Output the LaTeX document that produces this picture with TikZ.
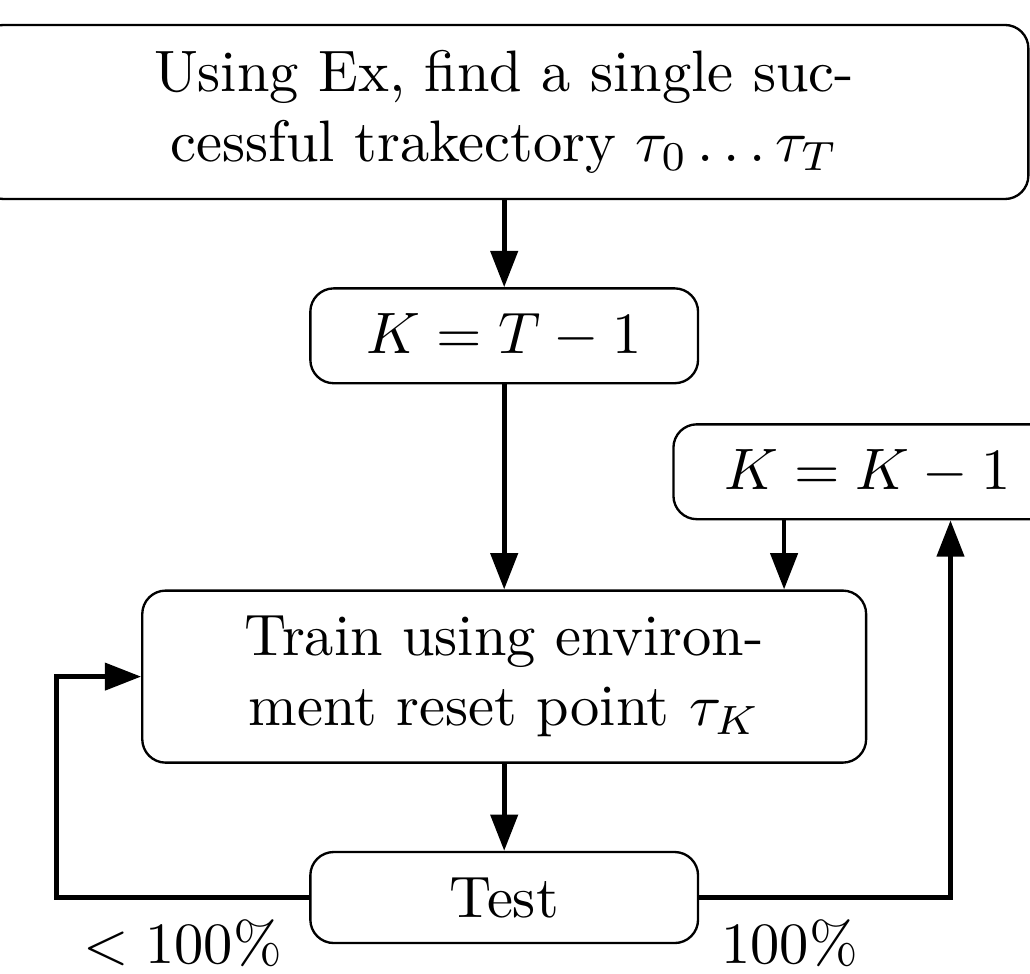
\documentclass[tikz,border=0pt]{standalone}
\usepackage{amsmath}
\usetikzlibrary{arrows.meta, positioning}

\begin{document}
\begin{tikzpicture}[
  box/.style={rectangle, draw, rounded corners, align=center, inner sep=2pt},
  stepbox/.style={box, minimum width=23.3mm, minimum height=5.7mm},
  arr/.style={-{Triangle[length=6.2pt, width=4.6pt]}, thick}
]
\useasboundingbox (-3.03,0.673) rectangle (3.16,-5.175);

% Main column
\node[box, minimum width=63mm, minimum height=10.46mm] (find) {Using Ex, find a single suc-\\cessful trakectory $\tau_0\ldots\tau_T$};
\node[stepbox, below=5.23mm of find] (calc) {$K = T - 1$};
\node[box, minimum width=43.5mm, minimum height=10.34mm, below=12.32mm of calc] (train) {Train using environ-\\ment reset point $\tau_K$};
\node[stepbox, minimum height=5.47mm, below=5.23mm of train] (test) {Test};

\draw[arr] (find) -- (calc);
\draw[arr] (calc) -- (train);
\draw[arr] (train) -- (test);

% Decrement step
\node[stepbox, above=4.15mm of train.north east] (dec) {$K = K - 1$};
\coordinate (decin) at ([xshift=-5mm]dec.south);
\coordinate (decout) at ([xshift=5mm]dec.south);
\draw[arr] (decin) -- (decin |- train.north);

% Outcomes of the test
\draw[arr] (test.west) -- ++(-1.52,0) node[below, midway] {$<100\%$} |- (train.west);
\draw[arr] (test.east) -| node[below, pos=0.18] {100\%} (decout);

\end{tikzpicture}
\end{document}
